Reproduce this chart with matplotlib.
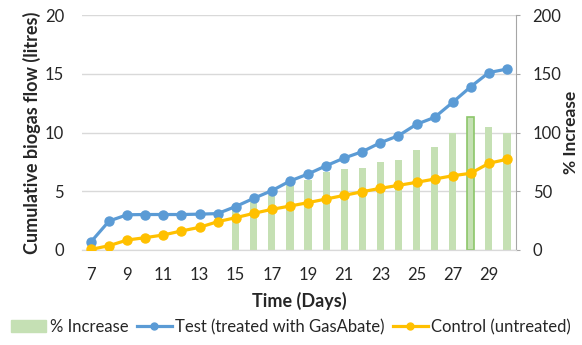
"""Cumulative biogas flow, test vs control, with % increase bars."""
import numpy as np
import matplotlib.pyplot as plt
from matplotlib.patches import Patch
from matplotlib.lines import Line2D

plt.rcParams['font.family'] = ['Lato', 'DejaVu Sans']

days = np.arange(7, 31)
test = [0.7, 2.47, 3.0, 3.02, 3.02, 3.02, 3.05, 3.1, 3.7, 4.4, 5.05, 5.87,
        6.47, 7.17, 7.83, 8.37, 9.13, 9.73, 10.7, 11.29, 12.57, 13.9, 15.1, 15.4]
control = [0.05, 0.37, 0.85, 1.05, 1.28, 1.62, 1.93, 2.41, 2.75, 3.12, 3.46, 3.74,
           4.03, 4.34, 4.65, 4.96, 5.25, 5.5, 5.76, 6.04, 6.32, 6.53, 7.38, 7.72]
bar_days = np.arange(15, 31)
pct_increase = [35, 41, 47, 57, 60, 66, 69, 70, 75, 77, 85, 88, 100, 113.5, 105, 100]
highlight_day = 28

blue = '#5B9BD5'
gold = '#FFC000'
green = '#C5E0B4'
text_col = '#262626'

fig = plt.figure(figsize=(5.82, 3.45), dpi=100)
ax = fig.add_axes([82 / 582, 1 - 250 / 345, 434 / 582, 235 / 345])
ax2 = ax.twinx()

# bars on the right axis, drawn behind the lines
edges = ['#8CC66A' if d == highlight_day else green for d in bar_days]
widths = [1.2 if d == highlight_day else 0 for d in bar_days]
ax2.bar(bar_days, pct_increase, width=0.4, color=green, edgecolor=edges,
        linewidth=widths, zorder=2)
ax2.set_ylim(0, 200)
ax2.set_yticks(np.arange(0, 201, 50))
ax2.grid(axis='y', color='#D9D9D9', linewidth=1, zorder=0)
ax2.set_axisbelow(True)

ax.set_zorder(ax2.get_zorder() + 1)
ax.patch.set_visible(False)
ax.plot(days, test, color=blue, lw=2.3, marker='o', ms=6.5, zorder=3)
ax.plot(days, control, color=gold, lw=2.3, marker='o', ms=6.5, zorder=4)
ax.set_ylim(0, 20)
ax.set_yticks(np.arange(0, 21, 5))
ax.set_xlim(6.5, 30.5)
ax.set_xticks(np.arange(7, 30, 2))

for a in (ax, ax2):
    for s in ('top', 'left', 'right'):
        a.spines[s].set_visible(False)
    a.spines['bottom'].set_color('#D9D9D9')
ax2.spines['right'].set_visible(True)
ax2.spines['right'].set_color('#A6A6A6')

ax.tick_params(axis='y', length=0, pad=13, labelsize=12, colors=text_col)
ax.tick_params(axis='x', length=0, pad=12, labelsize=12, colors=text_col)
ax2.tick_params(axis='y', length=3, direction='out', color='#A6A6A6', pad=9,
                labelsize=12, labelcolor=text_col)

ax.set_ylabel('Cumulative biogas flow (litres)', fontsize=13, fontweight='bold',
              color=text_col, labelpad=3)
ax2.set_ylabel('% Increase', fontsize=12.5, fontweight='bold', color=text_col, labelpad=1)
ax.set_xlabel('Time (Days)', fontsize=13, fontweight='bold', color=text_col, labelpad=7)

handles = [Patch(color=green),
           Line2D([], [], color=blue, lw=2.3, marker='o', ms=5),
           Line2D([], [], color=gold, lw=2.3, marker='o', ms=5)]
labels = ['% Increase', 'Test (treated with GasAbate)', 'Control (untreated)']
fig.legend(handles, labels, loc='center', bbox_to_anchor=(0.5, 1 - 327 / 345), ncol=3,
           frameon=False, fontsize=12, handlelength=2.1, columnspacing=0.5,
           handletextpad=0.2, labelcolor=text_col)

fig.savefig('out.png', dpi=100)
